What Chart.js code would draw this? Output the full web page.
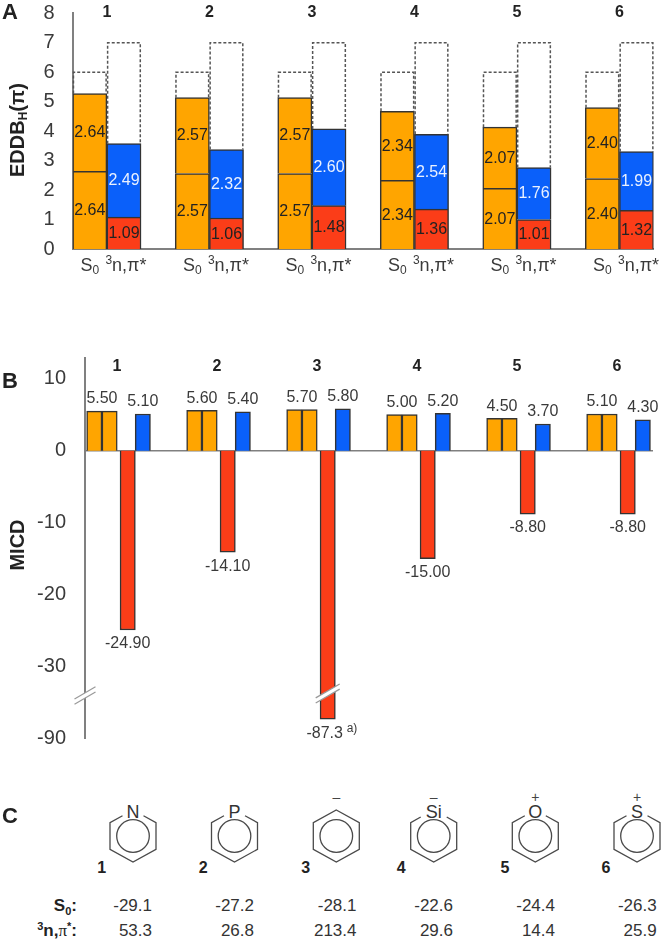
<!DOCTYPE html>
<html>
<head>
<meta charset="utf-8">
<script src="https://cdn.jsdelivr.net/npm/chart.js@4/dist/chart.umd.js"></script>
<style>
html,body{margin:0;padding:0;background:#fff;overflow:hidden;width:661px;height:939px;}
body{position:relative;font-family:"Liberation Sans",Arial,sans-serif;color:#333;}
canvas{position:absolute;left:0;display:block;}
.t{position:absolute;white-space:nowrap;line-height:1;}
.panel{font-weight:bold;font-size:22px;color:#222;left:2px;}
.ytitle{font-weight:bold;font-size:20px;color:#222;transform:translate(-50%,-50%) rotate(-90deg);}
.ytitle sub{font-size:12px;line-height:0;vertical-align:-3px;}
.val{font-size:17px;transform:translateY(-50%);}
.rowlab{font-size:17px;font-weight:bold;color:#222;transform:translateY(-50%);right:584px;}
.rowlab sup{font-size:11px;line-height:0;vertical-align:6px;}
.rowlab sub{font-size:11px;line-height:0;vertical-align:-4px;}
.rowlab i{font-family:"Liberation Serif",serif;font-weight:normal;font-style:normal;}
</style>
</head>
<body>
<canvas id="chartA" width="661" height="290" style="top:0"></canvas>
<canvas id="chartB" width="661" height="420" style="top:340px"></canvas>
<svg id="mol" width="661" height="179" style="position:absolute;left:0;top:760px;font-family:'Liberation Sans',Arial,sans-serif"></svg>
<div class="t panel" style="top:1px">A</div>
<div class="t panel" style="top:370px">B</div>
<div class="t panel" style="top:805px">C</div>
<div class="t ytitle" style="left:17px;top:130px">EDDB<sub>H</sub>(π)</div>
<div class="t ytitle" style="left:17px;top:545px">MICD</div>
<div class="t rowlab" style="top:905px">S<sub>0</sub>:</div>
<div class="t rowlab" style="top:930px"><sup>3</sup>n,<i>π</i><sup>*</sup>:</div>
<script>
// ---- data ----
const compounds = ['1','2','3','4','5','6'];
const stateLabels = ['S₀','³n,π*'];
const eddbS0 = [2.64,2.57,2.57,2.34,2.07,2.40];
const eddbRed = [1.09,1.06,1.48,1.36,1.01,1.32];
const eddbBlue = [2.49,2.32,2.60,2.54,1.76,1.99];
const capacityS0 = [6,6,6,6,6,6];
const capacityN = [7,7,7,7,7,7];
const eddbTicks = [0,1,2,3,4,5,6,7,8];

const micdS0 = [5.5,5.6,5.7,5.0,4.5,5.1];
const micdBlue = [5.1,5.4,5.8,5.2,3.7,4.3];
const micdRed = [-24.9,-14.1,-87.3,-15.0,-8.8,-8.8];
const micdRedLabels = ['-24.90','-14.10','-87.3','-15.00','-8.80','-8.80'];
const micdTicks = [10,0,-10,-20,-30,-90];

const atoms = ['N','P','','Si','O','S'];
const charges = ['','','–','–','+','+'];
const nicsS0 = ['-29.1','-27.2','-28.1','-22.6','-24.4','-26.3'];
const nicsN = ['53.3','26.8','213.4','29.6','14.4','25.9'];

// ---- style ----
const ORANGE='#FFA500', BLUE='#0A60FA', RED='#FB3D18', EDGE='#333333', AXIS='#808080', TXT='#3a3a3a';
const FONT='"Liberation Sans", Arial, sans-serif';
Chart.defaults.font.family=FONT;
Chart.defaults.animation=false;

// ---- panel A : one category per bar slot, every third slot is the gap ----
const slotLabels=[], s0Low=[], upper=[], rest=[], slotKind=[];
compounds.forEach((c,i)=>{
  slotLabels.push(stateLabels[0],stateLabels[1]);
  s0Low.push(eddbS0[i],eddbRed[i]);
  upper.push(eddbS0[i],eddbBlue[i]);
  rest.push(capacityS0[i]-2*eddbS0[i],capacityN[i]-eddbRed[i]-eddbBlue[i]);
  slotKind.push('s','n');
  if(i<compounds.length-1){slotLabels.push('');s0Low.push(null);upper.push(null);rest.push(null);slotKind.push('');}
});

// mixed-size tick text: S + subscript 0, superscript 3 + n,π*
function drawStateTick(ctx,kind,cx,y){
  ctx.fillStyle=TXT;ctx.textAlign='left';ctx.textBaseline='alphabetic';
  const big='18px '+FONT,small='12px '+FONT;
  if(kind==='s'){
    ctx.font=big;const a=ctx.measureText('S').width;
    ctx.font=small;const b=ctx.measureText('0').width;
    const x=cx-(a+b)/2;
    ctx.font=big;ctx.fillText('S',x,y);
    ctx.font=small;ctx.fillText('0',x+a,y+3);
  }else{
    ctx.font=small;const a=ctx.measureText('3').width;
    ctx.font=big;const b=ctx.measureText('n,π*').width;
    const x=cx-(a+b)/2+2;
    ctx.font=small;ctx.fillText('3',x,y-7);
    ctx.font=big;ctx.fillText('n,π*',x+a,y);
  }
}

const noScalePadding=s=>{s.paddingTop=0;s.paddingBottom=0;};

const panelAPlugin={
  id:'panelA',
  afterDatasetsDraw(chart){
    const ctx=chart.ctx;
    // dashed capacity outlines
    const m=chart.getDatasetMeta(2);
    ctx.save();
    ctx.strokeStyle='#555';ctx.lineWidth=1.5;ctx.setLineDash([3,2]);
    m.data.forEach((b,i)=>{
      if(rest[i]===null)return;
      const p=b.getProps(['x','y','base','width'],true);
      const l=p.x-p.width/2+0.75,r=p.x+p.width/2-0.75;
      ctx.beginPath();ctx.moveTo(l,p.base);ctx.lineTo(l,p.y);ctx.lineTo(r,p.y);ctx.lineTo(r,p.base);ctx.stroke();
    });
    ctx.setLineDash([]);
    // values in bars
    ctx.font='16px '+FONT;ctx.textAlign='center';ctx.textBaseline='middle';
    [0,1].forEach(di=>{
      const ds=chart.data.datasets[di];
      chart.getDatasetMeta(di).data.forEach((b,i)=>{
        const v=ds.data[i];if(v===null)return;
        const p=b.getProps(['x','y','base'],true);
        ctx.fillStyle=(di===1&&slotKind[i]==='n')?'#EAF1FF':'#222';
        ctx.fillText(v.toFixed(2),p.x,(p.y+p.base)/2+0.5);
      });
    });
    // compound numbers
    ctx.font='bold 16px '+FONT;ctx.fillStyle='#222';
    const xs=chart.scales.x;
    compounds.forEach((c,i)=>{
      ctx.fillText(c,(xs.getPixelForValue(3*i)+xs.getPixelForValue(3*i+1))/2,13);
    });
    // state ticks below the axis
    slotKind.forEach((k,i)=>{ if(k) drawStateTick(ctx,k,xs.getPixelForValue(i),chart.chartArea.bottom+22); });
    ctx.restore();
  }
};

new Chart(document.getElementById('chartA'),{
  type:'bar',
  plugins:[panelAPlugin],
  data:{labels:slotLabels,datasets:[
    {label:'lower',data:s0Low,backgroundColor:c=>slotKind[c.dataIndex]==='n'?RED:ORANGE,borderColor:EDGE,borderWidth:1.5},
    {label:'upper',data:upper,backgroundColor:c=>slotKind[c.dataIndex]==='n'?BLUE:ORANGE,borderColor:EDGE,borderWidth:1.5},
    {label:'capacity',data:rest,backgroundColor:'rgba(0,0,0,0)',borderWidth:0}
  ]},
  options:{
    responsive:false,animation:false,
    layout:{autoPadding:false,padding:{top:13.3,right:7.4,left:0,bottom:0}},
    plugins:{legend:{display:false},tooltip:{enabled:false}},
    datasets:{bar:{barPercentage:1,categoryPercentage:1}},
    scales:{
      x:{stacked:true,grid:{display:false,drawTicks:false},border:{color:AXIS,width:2},
         ticks:{display:false},
         afterFit(s){s.height=40.7;}},
      y:{stacked:true,min:0,max:8,grid:{display:false,drawTicks:false},border:{color:AXIS,width:2},
         ticks:{padding:18,color:TXT,font:{size:20}},
         afterBuildTicks(s){s.ticks=eddbTicks.map(v=>({value:v}));},
         afterFit(s){s.width=72.7;noScalePadding(s);}}
    }
  }
});

// ---- panel B : value axis with a break between -30 and -90 ----
const BREAK_SHIFT=50, BREAK_AT=-40;
class BrokenScale extends Chart.LinearScale{
  getPixelForValue(v){return super.getPixelForValue(v<BREAK_AT?v+BREAK_SHIFT:v);}
}
BrokenScale.id='broken';
BrokenScale.defaults=Chart.LinearScale.defaults;
Chart.register(BrokenScale);

const SLOT={o1:.093,o2:.246,red:.427,blue:.578};
const pts=(arr,off)=>arr.map((v,i)=>({x:i+off,y:v}));

function drawBreak(ctx,cx,cy,hw){
  const rise=hw*0.58, g=2.6;
  ctx.save();
  ctx.fillStyle='#fff';
  ctx.beginPath();
  ctx.moveTo(cx-hw,cy+rise-g);ctx.lineTo(cx+hw,cy-rise-g);ctx.lineTo(cx+hw,cy-rise+g);ctx.lineTo(cx-hw,cy+rise+g);
  ctx.closePath();ctx.fill();
  ctx.strokeStyle='#999';ctx.lineWidth=1.2;
  [-g,g].forEach(d=>{ctx.beginPath();ctx.moveTo(cx-hw,cy+rise+d);ctx.lineTo(cx+hw,cy-rise+d);ctx.stroke();});
  ctx.restore();
}

const panelBPlugin={
  id:'panelB',
  afterDatasetsDraw(chart){
    const ctx=chart.ctx,xs=chart.scales.x,ys=chart.scales.y;
    ctx.save();
    ctx.font='16px '+FONT;ctx.fillStyle=TXT;ctx.textAlign='center';ctx.textBaseline='middle';
    compounds.forEach((c,i)=>{
      const ox=(xs.getPixelForValue(i+SLOT.o1)+xs.getPixelForValue(i+SLOT.o2))/2;
      ctx.fillText(micdS0[i].toFixed(2),ox,ys.getPixelForValue(micdS0[i])-12);
      ctx.fillText(micdBlue[i].toFixed(2),xs.getPixelForValue(i+SLOT.blue),ys.getPixelForValue(micdBlue[i])-12);
      const broken=micdRed[i]<BREAK_AT;
      const rx=xs.getPixelForValue(i+SLOT.red);
      const ry=ys.getPixelForValue(micdRed[i])+14;
      ctx.fillText(micdRedLabels[i],rx-(broken?3:0),ry);
      if(broken){
        ctx.font='12px '+FONT;ctx.textAlign='left';
        ctx.fillText('a)',rx+19,ry-5);
        ctx.font='16px '+FONT;ctx.textAlign='center';
        drawBreak(ctx,rx,ys.getPixelForValue(-34)-2,12);
      }
    });
    drawBreak(ctx,xs.left,ys.getPixelForValue(-34),10.5);
    ctx.font='bold 16px '+FONT;ctx.fillStyle='#222';
    compounds.forEach((c,i)=>{ctx.fillText(c,xs.getPixelForValue(i+0.32),chart.chartArea.top+9);});
    ctx.restore();
  }
};

const barOpts={barThickness:15.3,borderColor:EDGE,borderWidth:1.5};
new Chart(document.getElementById('chartB'),{
  type:'bar',
  plugins:[panelBPlugin],
  data:{datasets:[
    {label:'S0 a',data:pts(micdS0,SLOT.o1),backgroundColor:ORANGE,...barOpts},
    {label:'S0 b',data:pts(micdS0,SLOT.o2),backgroundColor:ORANGE,...barOpts},
    {label:'red',data:pts(micdRed,SLOT.red),backgroundColor:RED,...barOpts},
    {label:'blue',data:pts(micdBlue,SLOT.blue),backgroundColor:BLUE,...barOpts}
  ]},
  options:{
    responsive:false,animation:false,
    layout:{autoPadding:false,padding:{top:17.8,bottom:21.3,right:9,left:0}},
    plugins:{legend:{display:false},tooltip:{enabled:false}},
    datasets:{bar:{grouped:false,barPercentage:1,categoryPercentage:1}},
    scales:{
      x:{type:'linear',min:0,max:5.67,offset:false,position:{y:0},
         grid:{display:false,drawTicks:false,offset:false},border:{color:AXIS,width:1.5},
         ticks:{display:false}},
      y:{type:'broken',min:-40,max:12.9,grid:{display:false,drawTicks:false},border:{color:AXIS,width:2},
         ticks:{autoSkip:false,padding:19,color:TXT,font:{size:20},callback:v=>String(v)},
         afterBuildTicks(s){s.ticks=micdTicks.map(v=>({value:v}));},
         afterFit(s){s.width=85;noScalePadding(s);}}
    }
  }
});

// ---- panel C : rings and table ----
const ringX=[133,234.5,336.3,433.7,535.3,637];
const numX=[101.7,203.3,305.7,401.3,505,606];
const valRight=[152,254,356.5,453,555,656.7];
const svg=document.getElementById('mol');
const NS='http://www.w3.org/2000/svg';
function el(tag,attrs,txt){const e=document.createElementNS(NS,tag);for(const k in attrs)e.setAttribute(k,attrs[k]);if(txt)e.textContent=txt;svg.appendChild(e);}
const cy=76;
compounds.forEach((c,i)=>{
  const x=ringX[i],a=atoms[i];
  const gapX=a==='Si'?13:10.5,gapY=a==='Si'?-19:-20.3;
  const d=a?`M${x+gapX} ${cy+gapY}L${x+23} ${cy-13.3}V${cy+13.3}L${x} ${cy+26}L${x-23} ${cy+13.3}V${cy-13.3}L${x-gapX} ${cy+gapY}`
           :`M${x} ${cy-26}L${x+23} ${cy-13.3}V${cy+13.3}L${x} ${cy+26}L${x-23} ${cy+13.3}V${cy-13.3}Z`;
  el('path',{d,fill:'none',stroke:'#4a4a4a','stroke-width':1.3});
  el('circle',{cx:x,cy,r:16.3,fill:'none',stroke:'#4a4a4a','stroke-width':1.3});
  if(a)el('text',{x,y:cy-18.5,'text-anchor':'middle','font-size':18,fill:'#333'},a);
  if(charges[i])el('text',{x,y:cy-34,'text-anchor':'middle','font-size':14,fill:'#444'},charges[i]);
  el('text',{x:numX[i],y:113,'text-anchor':'middle','font-size':16,'font-weight':'bold',fill:'#222'},c);
});
function row(arr,top){
  arr.forEach((v,i)=>{
    const d=document.createElement('div');
    d.className='t val';d.textContent=v;
    d.style.top=top+'px';d.style.right=(661-valRight[i])+'px';
    document.body.appendChild(d);
  });
}
row(nicsS0,905);row(nicsN,930);
</script>
</body>
</html>
